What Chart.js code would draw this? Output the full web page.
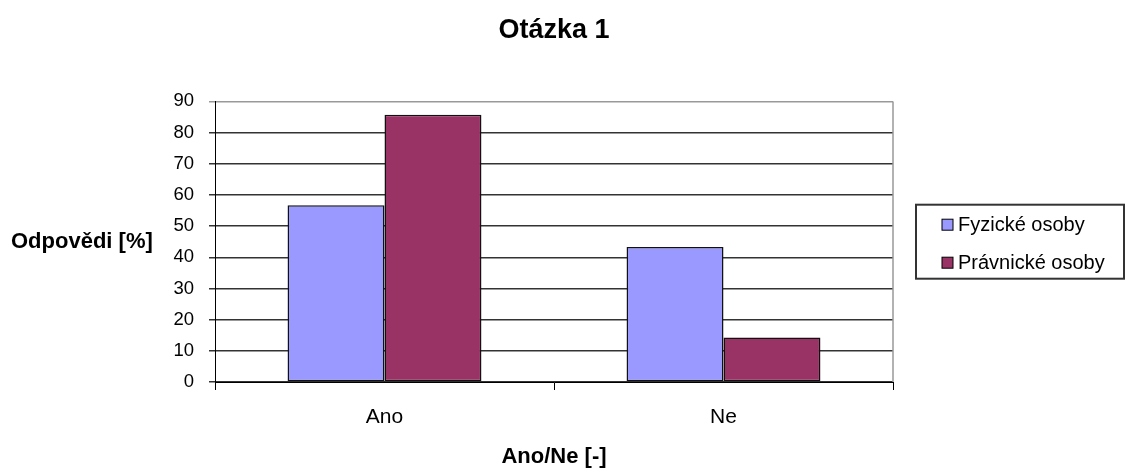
<!DOCTYPE html>
<html>
<head>
<meta charset="utf-8">
<script src="https://cdn.jsdelivr.net/npm/chart.js@4"></script>
<style>
  body { margin: 0; background: #fff; }
  canvas { display: block; }
</style>
</head>
<body>
<canvas id="chart-otazka" width="1126" height="468"></canvas>
<script>
// data
const categories = ['Ano', 'Ne'];
const fyzickeOsoby = [56.7, 43.3];
const pravnickeOsoby = [85.7, 14.3];
const seriesNames = ['Fyzické osoby', 'Právnické osoby'];
const seriesColors = ['#9999FF', '#993366'];
const yTicks = [0, 10, 20, 30, 40, 50, 60, 70, 80, 90];

const chartTitle = 'Otázka 1';
const yTitle = 'Odpovědi [%]';
const xTitle = 'Ano/Ne [-]';

const FONT = "'Liberation Sans', Arial, sans-serif";

// horizontal y title, right-side boxed legend and grey plot border (Excel look)
const excelBits = {
    id: 'excelBits',
    afterDraw(chart) {
        const { ctx, chartArea } = chart;
        const midY = (chartArea.top + chartArea.bottom) / 2;

        ctx.save();
        // plot area border, right side
        ctx.strokeStyle = '#999';
        ctx.lineWidth = 1.5;
        ctx.beginPath();
        ctx.moveTo(chartArea.right, chartArea.top);
        ctx.lineTo(chartArea.right, chartArea.bottom);
        ctx.stroke();

        // y axis title, not rotated
        ctx.fillStyle = '#000';
        ctx.font = 'bold 22px ' + FONT;
        ctx.textAlign = 'left';
        ctx.textBaseline = 'middle';
        ctx.fillText(yTitle, 11, midY);

        // legend
        const w = 208, h = 74;
        const lx = chartArea.right + 23;
        const ly = midY - h / 2;
        ctx.strokeStyle = '#333';
        ctx.lineWidth = 2;
        ctx.strokeRect(lx, ly, w, h);
        ctx.font = '20px ' + FONT;
        chart.data.datasets.forEach((ds, i) => {
            const cy = ly + 20 + i * 38;
            ctx.fillStyle = ds.backgroundColor;
            ctx.fillRect(lx + 26, cy - 5.5, 11, 11);
            ctx.strokeStyle = '#000';
            ctx.lineWidth = 1;
            ctx.strokeRect(lx + 26, cy - 5.5, 11, 11);
            ctx.fillStyle = '#000';
            ctx.fillText(ds.label, lx + 42, cy + 1);
        });
        ctx.restore();
    }
};

new Chart(document.getElementById('chart-otazka'), {
    type: 'bar',
    data: {
        labels: categories,
        datasets: [
            {
                label: seriesNames[0],
                data: fyzickeOsoby,
                backgroundColor: seriesColors[0],
                borderColor: '#111',
                borderWidth: 1.5,
                borderSkipped: false,
                categoryPercentage: 0.572,
                barPercentage: 1,
            },
            {
                label: seriesNames[1],
                data: pravnickeOsoby,
                backgroundColor: seriesColors[1],
                borderColor: '#111',
                borderWidth: 1.5,
                borderSkipped: false,
                categoryPercentage: 0.572,
                barPercentage: 1,
            },
        ],
    },
    options: {
        responsive: false,
        animation: false,
        layout: { padding: { top: 0, right: 233, bottom: 0, left: 0 } },
        plugins: {
            legend: { display: false },
            tooltip: { enabled: false },
            title: {
                display: true,
                text: chartTitle,
                fullSize: false,
                color: '#000',
                font: { family: FONT, size: 27, weight: 'bold', lineHeight: 1.2 },
                padding: { top: 14, bottom: 55 },
            },
        },
        scales: {
            x: {
                offset: true,
                grid: {
                    offset: true,
                    drawOnChartArea: false,
                    drawTicks: true,
                    tickLength: 8,
                    color: '#000',
                },
                border: { display: true, color: '#000', width: 1 },
                ticks: {
                    color: '#000',
                    padding: 15,
                    font: { family: FONT, size: 21 },
                },
                title: {
                    display: true,
                    text: xTitle,
                    color: '#000',
                    font: { family: FONT, size: 22, weight: 'bold', lineHeight: 1.05 },
                    padding: { top: 0, bottom: 0 },
                },
                afterFit(axis) { axis.height = 86; },
            },
            y: {
                min: 0,
                max: 90,
                afterBuildTicks(axis) { axis.ticks = yTicks.map(v => ({ value: v })); },
                grid: {
                    color: (c) => (c.tick && c.tick.value === 90 ? '#999' : '#333'),
                    lineWidth: 1.5,
                    drawTicks: true,
                    tickLength: 6,
                },
                border: { display: true, color: '#000', width: 1 },
                ticks: {
                    color: '#000',
                    padding: 15,
                    font: { family: FONT, size: 18.5 },
                },
                afterFit(axis) { axis.width = 215; },
            },
        },
    },
    plugins: [excelBits],
});
</script>
</body>
</html>
